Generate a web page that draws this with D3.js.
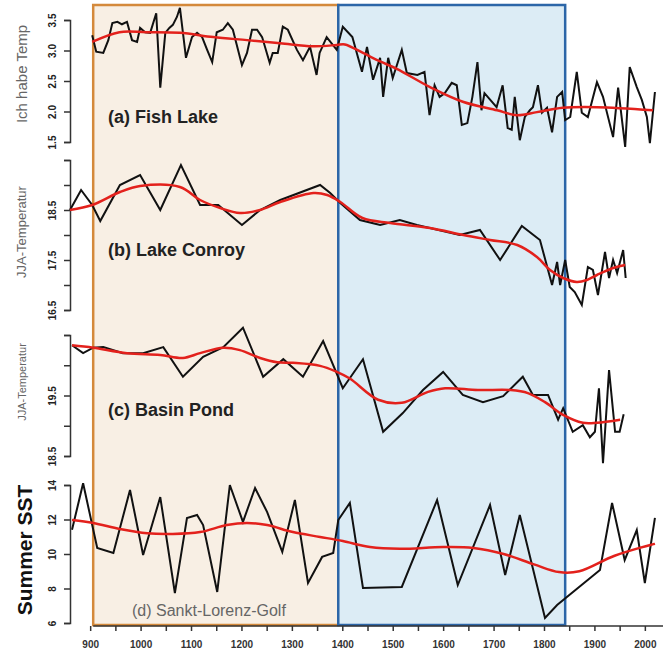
<!DOCTYPE html>
<html>
<head>
<meta charset="utf-8">
<script src="https://cdn.jsdelivr.net/npm/d3@7"></script>
<style>
body { margin: 0; background: #fff; }
svg { display: block; font-family: 'Liberation Sans', Arial, sans-serif; }
</style>
</head>
<body>
<div id="chart"></div>
<script>
// Data: [year, value]
const fishLakeRaw = [[904,3.25],[912,2.98],[926,2.96],[936,3.17],[944,3.45],[954,3.47],[963,3.43],[973,3.47],[983,3.17],[993,3.14],[999,3.37],[1009,3.30],[1019,3.29],[1031,3.61],[1039,2.39],[1049,3.29],[1057,3.37],[1064,3.42],[1072,3.55],[1078,3.70],[1090,2.88],[1102,3.22],[1112,3.29],[1122,3.22],[1132,3.01],[1142,2.81],[1151,3.30],[1163,3.34],[1173,3.45],[1183,3.34],[1201,2.76],[1211,2.96],[1221,3.34],[1231,3.34],[1241,3.22],[1256,2.80],[1262,2.96],[1272,2.96],[1282,3.39],[1292,3.34],[1310,3.01],[1322,2.84],[1336,3.06],[1349,2.60],[1355,2.96],[1369,3.22],[1389,3.01],[1401,3.39],[1420,3.22],[1439,2.65],[1449,3.06],[1461,2.52],[1475,2.88],[1481,2.24],[1491,2.88],[1500,2.55],[1518,3.01],[1528,2.63],[1549,2.60],[1563,2.65],[1573,1.94],[1583,2.43],[1593,2.24],[1603,2.30],[1617,2.47],[1627,2.43],[1637,1.78],[1648,1.81],[1658,2.24],[1668,2.81],[1676,2.02],[1682,2.30],[1706,2.07],[1718,2.43],[1728,1.73],[1736,1.70],[1742,2.24],[1752,1.53],[1762,1.91],[1772,2.02],[1778,2.07],[1788,2.43],[1796,1.98],[1806,2.06],[1816,1.66],[1826,2.24],[1836,2.32],[1842,1.86],[1852,1.91],[1865,2.65],[1875,1.98],[1887,1.91],[1905,2.48],[1917,2.24],[1937,1.58],[1947,2.39],[1961,1.42],[1970,2.73],[1984,2.40],[1994,2.19],[2004,1.91],[2010,1.48],[2020,2.32]]
const fishLakeSmooth = [[904,3.14],[958,3.30],[1011,3.30],[1078,3.29],[1144,3.22],[1211,3.17],[1277,3.12],[1342,3.07],[1389,3.09],[1405,3.10],[1441,2.96],[1475,2.82],[1508,2.70],[1574,2.40],[1639,2.16],[1707,2.02],[1746,1.94],[1786,1.99],[1837,2.06],[1905,2.07],[2016,2.02]]

const conroyRaw = [[860,18.5],[882,18.9],[904,18.6],[920,18.28],[959,19.0],[999,19.2],[1039,18.5],[1080,19.4],[1118,18.6],[1154,18.6],[1201,18.2],[1237,18.5],[1277,18.7],[1356,19.0],[1376,18.84],[1396,18.64],[1435,18.3],[1475,18.2],[1514,18.3],[1548,18.2],[1633,18.0],[1673,18.1],[1713,17.5],[1756,18.18],[1792,17.9],[1816,17.0],[1826,17.46],[1832,17.0],[1842,17.5],[1851,16.96],[1861,16.86],[1875,16.6],[1887,17.36],[1897,17.3],[1907,16.8],[1921,17.66],[1929,17.14],[1937,17.5],[1945,17.24],[1957,17.7],[1962,17.14]]
const conroySmooth = [[860,18.5],[904,18.6],[959,18.86],[999,18.98],[1078,18.96],[1118,18.7],[1158,18.54],[1197,18.44],[1237,18.5],[1277,18.66],[1343,18.84],[1370,18.8],[1396,18.66],[1440,18.34],[1495,18.24],[1574,18.14],[1640,18.0],[1693,17.9],[1747,17.8],[1786,17.56],[1812,17.3],[1838,17.14],[1865,17.06],[1885,17.1],[1905,17.2],[1937,17.34],[1961,17.4]]

const basinRaw = [[864,20.33],[886,20.20],[906,20.29],[926,20.30],[965,20.20],[1005,20.20],[1045,20.30],[1084,19.81],[1124,20.14],[1164,20.30],[1203,20.62],[1243,19.81],[1283,20.10],[1322,19.81],[1362,20.40],[1401,19.62],[1441,20.10],[1481,18.90],[1520,19.21],[1560,19.59],[1600,19.89],[1639,19.51],[1679,19.39],[1719,19.49],[1758,19.81],[1778,19.51],[1808,19.51],[1828,19.10],[1838,19.29],[1857,18.90],[1877,19.01],[1891,18.81],[1901,18.90],[1909,19.62],[1917,18.38],[1929,19.92],[1941,18.90],[1950,18.90],[1958,19.19]]
const basinSmooth = [[864,20.33],[906,20.29],[973,20.20],[1039,20.17],[1084,20.12],[1118,20.20],[1164,20.29],[1197,20.25],[1237,20.12],[1271,20.05],[1302,20.04],[1356,19.99],[1389,19.89],[1415,19.78],[1471,19.43],[1518,19.38],[1570,19.56],[1604,19.62],[1669,19.59],[1734,19.59],[1768,19.54],[1802,19.39],[1838,19.18],[1877,19.05],[1905,19.05],[1951,19.10]]

const sstRaw = [[864,11.4],[886,14.1],[914,10.35],[946,10.06],[979,13.71],[1005,9.94],[1039,13.3],[1068,7.74],[1092,12.09],[1112,12.26],[1124,11.68],[1152,7.8],[1177,14.0],[1203,11.86],[1227,13.83],[1251,12.43],[1281,10.12],[1306,13.13],[1332,8.32],[1360,9.83],[1382,10.06],[1392,11.97],[1415,12.96],[1441,8.03],[1518,8.09],[1588,13.13],[1629,8.2],[1693,12.84],[1723,8.78],[1752,12.26],[1802,6.29],[1826,7.04],[1911,9.07],[1935,12.96],[1960,9.65],[1984,11.39],[2000,8.32],[2020,12.09]]
const sstSmooth = [[864,11.97],[906,11.8],[959,11.45],[1013,11.2],[1064,11.16],[1118,11.27],[1171,11.68],[1211,11.8],[1251,11.68],[1302,11.27],[1356,10.99],[1401,10.75],[1455,10.4],[1514,10.3],[1600,10.4],[1660,10.35],[1720,10.0],[1780,9.4],[1830,8.95],[1870,9.0],[1940,9.9],[2020,10.6]]

// axis ticks
const fishTicks = [1.5, 2, 2.5, 3, 3.5]
const fishTickLabels = [1.5, 2, 2.5, 3, 3.5]
const conroyTicks = [16.5, 17, 17.5, 18, 18.5, 19, 19.5]
const conroyTickLabels = [16.5, 17.5, 18.5]
const basinTicks = [18.5, 19, 19.5, 20, 20.5]
const basinTickLabels = [18.5, 19.5]
const sstTicks = [6, 8, 10, 12, 14]
const sstTickLabels = [6, 8, 10, 12, 14]
const yearTicks = d3.range(900, 2001, 50)
const yearTickLabels = d3.range(900, 2001, 100)

// periods shaded in the background
const periods = [[906, 1392], [1392, 1842]]

const chartWidth = 671
const chartHeight = 651

let svg = d3.select('#chart')
            .append('svg')
            .attr('width', chartWidth)
            .attr('height', chartHeight)

svg.append('rect')
    .attr('width', chartWidth)
    .attr('height', chartHeight)
    .attr('fill', '#fff')

let xScale = d3.scaleLinear()
    .domain([860, 2036])
    .range([70, 663])

// background boxes
const boxFill = ['#f8efe4', '#dcecf5']
const boxStroke = ['#d4893b', '#2c66a8']
svg.append('g').selectAll('rect')
    .data(periods)
    .enter()
    .append('rect')
    .attr('x', (d) => xScale(d[0]))
    .attr('y', 5)
    .attr('width', (d) => xScale(d[1]) - xScale(d[0]))
    .attr('height', 620)
    .attr('fill', (d, i) => boxFill[i])
    .attr('stroke', (d, i) => boxStroke[i])
    .attr('stroke-width', 2.5)

// panels
const panels = [
    { raw: fishLakeRaw, smooth: fishLakeSmooth, domain: [1.5, 3.5], range: [142, 20], ticks: fishTicks, labels: fishTickLabels, fmt: d3.format('.1f'),
      title: '(a) Fish Lake', titleY: 123, yLabel: 'Ich habe Temp', yLabelX: 27, yLabelY: 74, yLabelSize: 15, yLabelBold: false },
    { raw: conroyRaw, smooth: conroySmooth, domain: [16.5, 19.5], range: [310, 160], ticks: conroyTicks, labels: conroyTickLabels, fmt: d3.format('.1f'),
      title: '(b) Lake Conroy', titleY: 256, yLabel: 'JJA-Temperatur', yLabelX: 26, yLabelY: 232, yLabelSize: 13, yLabelBold: false },
    { raw: basinRaw, smooth: basinSmooth, domain: [18.5, 20.5], range: [456, 335], ticks: basinTicks, labels: basinTickLabels, fmt: d3.format('.1f'),
      title: '(c) Basin Pond', titleY: 416, yLabel: 'JJA-Temperatur', yLabelX: 26, yLabelY: 382, yLabelSize: 11, yLabelBold: false },
    { raw: sstRaw, smooth: sstSmooth, domain: [6, 14], range: [623, 485], ticks: sstTicks, labels: sstTickLabels, fmt: d3.format('d'),
      title: null, titleY: 0, yLabel: 'Summer SST', yLabelX: 32, yLabelY: 550, yLabelSize: 21, yLabelBold: true }
]

panels.forEach((p) => {
    let yScale = d3.scaleLinear().domain(p.domain).range(p.range)

    let yAxis = d3.axisLeft(yScale)
        .tickValues(p.ticks)
        .tickSize(6)
        .tickSizeOuter(6)
        .tickFormat((d) => p.labels.includes(d) ? p.fmt(d) : '')

    let g = svg.append('g')
        .attr('transform', 'translate(70,0)')
        .call(yAxis)
    g.select('.domain').attr('stroke', '#333').attr('stroke-width', 1.5)
    g.selectAll('.tick line').attr('stroke', '#333').attr('stroke-width', 1.5)
    g.selectAll('.tick text')
        .attr('x', 0)
        .attr('dy', 0)
        .attr('transform', 'translate(-14,0) rotate(-90)')
        .attr('text-anchor', 'middle')
        .attr('font-size', '10px')
        .attr('font-weight', 'bold')
        .attr('font-family', 'Liberation Sans, Arial, sans-serif')
        .attr('fill', '#222')

    svg.append('text')
        .attr('x', p.yLabelX)
        .attr('y', p.yLabelY)
        .attr('transform', `rotate(-90,${p.yLabelX},${p.yLabelY})`)
        .attr('text-anchor', 'middle')
        .attr('font-size', p.yLabelSize + 'px')
        .attr('font-weight', p.yLabelBold ? 'bold' : 'normal')
        .attr('fill', p.yLabelBold ? '#111' : '#666')
        .text(p.yLabel)

    let line = d3.line()
        .x((d) => xScale(d[0]))
        .y((d) => yScale(d[1]))

    svg.append('path')
        .datum(p.raw)
        .attr('d', line)
        .attr('fill', 'none')
        .attr('stroke', '#111')
        .attr('stroke-width', 2)
        .attr('stroke-linejoin', 'miter')

    svg.append('path')
        .datum(p.smooth)
        .attr('d', line.curve(d3.curveCatmullRom))
        .attr('fill', 'none')
        .attr('stroke', '#e3211c')
        .attr('stroke-width', 2.5)

    if (p.title) {
        svg.append('text')
            .attr('x', 108)
            .attr('y', p.titleY)
            .attr('font-size', '18px')
            .attr('font-weight', 'bold')
            .attr('fill', '#222')
            .text(p.title)
    }
})

svg.append('text')
    .attr('x', 132)
    .attr('y', 616)
    .attr('font-size', '16px')
    .attr('fill', '#666')
    .text('(d) Sankt-Lorenz-Golf')

// x axis
let xAxis = d3.axisBottom(xScale)
    .tickValues(yearTicks)
    .tickSize(5)
    .tickSizeOuter(0)
    .tickPadding(10)
    .tickFormat((d) => yearTickLabels.includes(d) ? d : '')

let gx = svg.append('g')
    .attr('transform', 'translate(0,626)')
    .call(xAxis)
gx.select('.domain')
    .attr('d', `M${xScale(906)},0H${xScale(2036)}`)
    .attr('stroke', '#333')
    .attr('stroke-width', 1.5)
gx.selectAll('.tick line').attr('stroke', '#333').attr('stroke-width', 1.5)
gx.selectAll('.tick text')
    .attr('font-size', '10px')
    .attr('font-weight', 'bold')
    .attr('font-family', 'Liberation Sans, Arial, sans-serif')
    .attr('fill', '#333')
</script>
</body>
</html>
